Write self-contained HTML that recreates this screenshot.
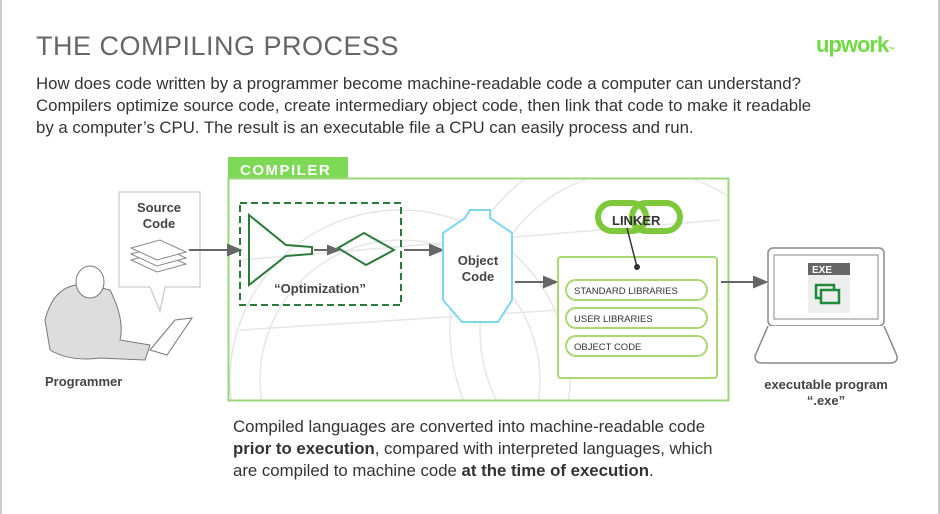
<!DOCTYPE html>
<html><head><meta charset="utf-8"><style>
body{margin:0;background:#fff;}
.w{position:relative;width:940px;height:514px;overflow:hidden;font-family:"Liberation Sans",sans-serif;color:#333;border-left:2px solid #ccc;border-right:2px solid #ccc;box-sizing:border-box}
.t{position:absolute;white-space:nowrap}
</style></head><body><div class="w">
<div class="t" style="left:34px;top:31px;font-size:27px;color:#666;letter-spacing:0.5px">THE COMPILING PROCESS</div>
<div class="t" style="left:814px;top:32px;font-size:22px;font-weight:bold;color:#6fda44;letter-spacing:-1px">upwork<span style="font-size:7px">™</span></div>
<div class="t" style="left:34px;top:73px;font-size:16.8px;line-height:22px;color:#333">How does code written by a programmer become machine-readable code a computer can understand?<br>Compilers optimize source code, create intermediary object code, then link that code to make it readable<br>by a computer’s CPU. The result is an executable file a CPU can easily process and run.</div>
<svg width="940" height="514" style="position:absolute;left:-2px;top:0">
<defs><clipPath id="c"><rect x="229" y="179" width="499" height="221"/></clipPath></defs>
<g stroke="#e6e6e6" fill="none" stroke-width="1.5" clip-path="url(#c)">
<circle cx="400" cy="380" r="170"/><circle cx="400" cy="380" r="140"/><circle cx="640" cy="330" r="190"/><circle cx="640" cy="330" r="160"/>
<line x1="240" y1="260" x2="720" y2="220"/><line x1="240" y1="330" x2="720" y2="300"/>
</g>
<rect x="228" y="157" width="120" height="22" fill="#7ed957"/>
<text x="240" y="175" font-size="15" font-weight="bold" fill="#fff" letter-spacing="1.5">COMPILER</text>
<rect x="228.5" y="178.5" width="500" height="222" fill="none" stroke="#9ad67a" stroke-width="2"/>
<path d="M119 192 H200 V287 H165 L160 311 L150 287 H119 Z" fill="#fff" stroke="#ccc" stroke-width="1.3"/>
<text x="159" y="212" font-size="13" font-weight="bold" fill="#444" text-anchor="middle">Source</text>
<text x="159" y="228" font-size="13" font-weight="bold" fill="#444" text-anchor="middle">Code</text>
<g fill="#fff" stroke="#888"><path d="M131 260 L160 252 L186 264 L157 272Z"/><path d="M131 254 L160 246 L186 258 L157 266Z"/><path d="M131 248 L160 240 L186 252 L157 260Z"/></g>
<g fill="#ddd" stroke="#777" stroke-width="1"><path d="M45 320 Q55 280 90 285 L110 290 Q125 320 120 340 L150 345 L145 360 L100 358 Q70 362 50 350 Z"/><ellipse cx="90" cy="282" rx="14" ry="16" fill="#fff"/><path d="M150 350 L175 320 L192 318 L167 355 Z" fill="#fff"/></g>
<text x="45" y="386" font-size="13" font-weight="bold" fill="#444">Programmer</text>
<g stroke="#666" stroke-width="2" fill="#666">
<line x1="189" y1="250" x2="230" y2="250"/><path d="M240 250 L228 245 L228 255Z"/>
<line x1="314" y1="250" x2="330" y2="250"/><path d="M338 250 L328 246 L328 254Z"/>
<line x1="404" y1="250" x2="432" y2="250"/><path d="M442 250 L430 245 L430 255Z"/>
<line x1="515" y1="282" x2="545" y2="282"/><path d="M556 282 L544 277 L544 287Z"/>
<line x1="721" y1="282" x2="755" y2="282"/><path d="M766 282 L754 277 L754 287Z"/>
</g>
<rect x="240" y="203" width="161" height="102" fill="none" stroke="#2a7a3a" stroke-width="2" stroke-dasharray="7,4"/>
<path d="M249 215 L286 245 L312 247 V254 L286 256 L249 285 Z" fill="none" stroke="#2a7a3a" stroke-width="2"/>
<path d="M338 248 L364 233 L394 250 L366 265 Z" fill="none" stroke="#2a7a3a" stroke-width="2"/>
<text x="320" y="293" font-size="13" font-weight="bold" fill="#444" text-anchor="middle">“Optimization”</text>
<path d="M470 210 H490 V218 L512 233 V300 L498 322 H462 L443 300 V233 L465 218 Z" fill="#fff" stroke="#7fd6f0" stroke-width="2"/>
<text x="478" y="265" font-size="13" font-weight="bold" fill="#444" text-anchor="middle">Object</text>
<text x="478" y="281" font-size="13" font-weight="bold" fill="#444" text-anchor="middle">Code</text>
<rect x="558" y="257" width="159" height="121" rx="3" fill="#fff" stroke="#a8d870" stroke-width="2"/>
<g fill="#fff" stroke="#a8d870" stroke-width="2"><rect x="566" y="280" width="141" height="20" rx="10"/><rect x="566" y="308" width="141" height="20" rx="10"/><rect x="566" y="336" width="141" height="20" rx="10"/></g>
<text x="574" y="294" font-size="9.5" fill="#333">STANDARD LIBRARIES</text>
<text x="574" y="322" font-size="9.5" fill="#333">USER LIBRARIES</text>
<text x="574" y="350" font-size="9.5" fill="#333">OBJECT CODE</text>
<rect x="598" y="203" width="48" height="28" rx="14" fill="#fff" stroke="#7ec83b" stroke-width="6"/>
<rect x="632" y="203" width="48" height="28" rx="14" fill="none" stroke="#7ec83b" stroke-width="6"/>
<text x="612" y="225" font-size="13" font-weight="bold" fill="#333">LINKER</text>
<line x1="627" y1="228" x2="637" y2="267" stroke="#333" stroke-width="1.5"/><circle cx="637" cy="267" r="3" fill="#333"/>
<rect x="768" y="248" width="116" height="78" rx="5" fill="#fff" stroke="#888" stroke-width="1.5"/>
<rect x="774" y="255" width="104" height="64" fill="#fff" stroke="#888"/>
<path d="M768 326 L755 356 Q755 363 762 363 H890 Q898 363 897 356 L884 326" fill="#fff" stroke="#888" stroke-width="1.5"/>
<rect x="808" y="263" width="42" height="12" fill="#666"/><text x="812" y="273" font-size="10" font-weight="bold" fill="#fff">EXE</text>
<rect x="808" y="275" width="42" height="38" fill="#eee"/>
<rect x="816" y="285" width="18" height="13" fill="none" stroke="#1c8c3a" stroke-width="2.5"/><rect x="821" y="290" width="18" height="13" fill="#eee" stroke="#1c8c3a" stroke-width="2.5"/>
<text x="826" y="389" font-size="13" font-weight="bold" fill="#444" text-anchor="middle">executable program</text>
<text x="826" y="405" font-size="13" font-weight="bold" fill="#444" text-anchor="middle">“.exe”</text>
</svg>
<div class="t" style="left:231px;top:416px;font-size:16.8px;line-height:22px;color:#333">Compiled languages are converted into machine-readable code<br><b>prior to execution</b>, compared with interpreted languages, which<br>are compiled to machine code <b>at the time of execution</b>.</div>
</div></body></html>
